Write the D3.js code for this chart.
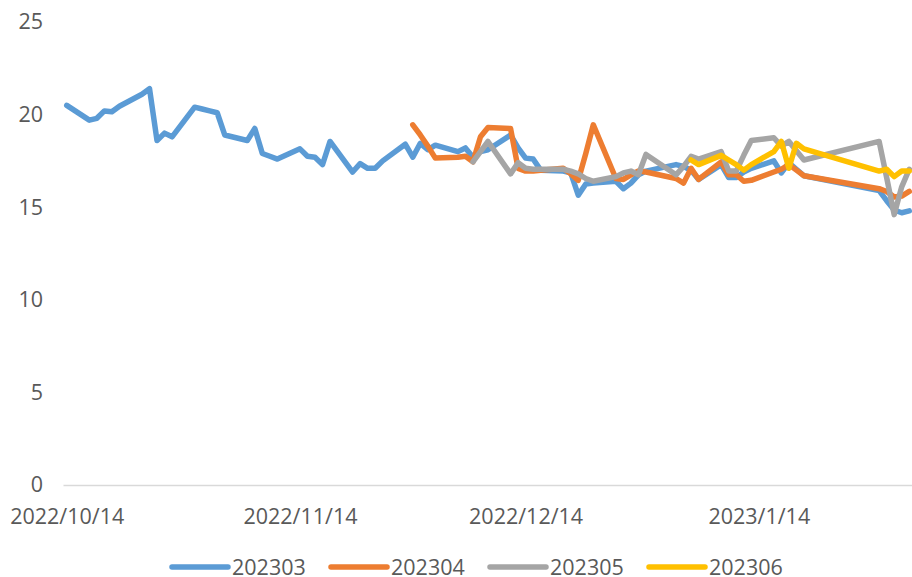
<!DOCTYPE html>
<html>
<head>
<meta charset="utf-8">
<script src="https://cdn.jsdelivr.net/npm/d3@7"></script>
<style>
  html, body { margin: 0; padding: 0; background: #fff; }
  #chart { width: 912px; height: 577px; }
  text { font-family: "Open Sans", sans-serif; fill: #595959; }
</style>
</head>
<body>
<div id="chart"></div>
<script>
// trading days on the x axis
const dates = [
  '2022/10/14','2022/10/17','2022/10/18','2022/10/19','2022/10/20','2022/10/21','2022/10/24','2022/10/25','2022/10/26','2022/10/27','2022/10/28','2022/10/31',
  '2022/11/1','2022/11/2','2022/11/3','2022/11/4','2022/11/7','2022/11/8','2022/11/9','2022/11/10','2022/11/11','2022/11/14','2022/11/15','2022/11/16','2022/11/17','2022/11/18','2022/11/21','2022/11/22','2022/11/23','2022/11/24','2022/11/25','2022/11/28','2022/11/29','2022/11/30',
  '2022/12/1','2022/12/2','2022/12/5','2022/12/6','2022/12/7','2022/12/8','2022/12/9','2022/12/12','2022/12/13','2022/12/14','2022/12/15','2022/12/16','2022/12/19','2022/12/20','2022/12/21','2022/12/22','2022/12/23','2022/12/26','2022/12/27','2022/12/28','2022/12/29','2022/12/30',
  '2023/1/3','2023/1/4','2023/1/5','2023/1/6','2023/1/9','2023/1/10','2023/1/11','2023/1/12','2023/1/13','2023/1/16','2023/1/17','2023/1/18','2023/1/19','2023/1/20','2023/1/30','2023/1/31',
  '2023/2/1','2023/2/2','2023/2/3'
];

const s202303 = [
  20.5, 19.7, 19.8, 20.2, 20.15, 20.45, 21.1, 21.4, 18.6, 19.0, 18.8, 20.4,
  20.3, 20.2, 20.1, 18.9, 18.6, 19.25, 17.9, 17.75, 17.6, 18.15, 17.75, 17.7, 17.3, 18.55, 16.9, 17.35, 17.1, 17.1, 17.5, 18.4, 17.7, 18.45,
  18.1, 18.35, 18.0, 18.2, 17.7, 18.0, 18.1, 18.9, 18.2, 17.65, 17.6, 17.0, 16.95, 16.85, 15.65, 16.25, 16.3, 16.4, 16.0, 16.3, 16.75, 16.95,
  17.3, 17.2, 17.0, 16.5, 17.3, 16.6, 16.6, 16.9, 17.1, 17.5, 16.85, 17.4, 17.05, 16.7, 15.9, 15.35,
  14.85, 14.7, 14.8
];

const s202304 = [
  null, null, null, null, null, null, null, null, null, null, null, null,
  null, null, null, null, null, null, null, null, null, null, null, null, null, null, null, null, null, null, null, null, 19.45, 18.9,
  18.3, 17.65, 17.7, 17.75, 17.45, 18.8, 19.3, 19.25, 17.1, 16.95, 16.95, 17.0, 17.1, 16.8, 16.45, 17.9, 19.45, 16.55, 16.5, 16.75, 16.95, 16.9,
  16.55, 16.3, 17.1, 16.5, 17.45, 16.75, 16.75, 16.4, 16.45, 16.9, 17.05, 17.3, 17.0, 16.7, 16.0, 15.85,
  15.55, 15.6, 15.85
];

const s202305 = [
  null, null, null, null, null, null, null, null, null, null, null, null,
  null, null, null, null, null, null, null, null, null, null, null, null, null, null, null, null, null, null, null, null, null, null,
  null, null, null, null, 17.45, 18.0, 18.55, 16.8, 17.4, 17.1, 17.05, 17.05, 17.05, 16.95, 16.8, 16.55, 16.4, 16.65, 16.85, 16.95, 16.75, 17.85,
  16.75, 17.2, 17.75, 17.6, 18.0, 16.95, 16.95, 17.8, 18.6, 18.75, 18.3, 18.55, 18.05, 17.55, 18.55, 16.6,
  14.6, 16.1, 17.05
];

const s202306 = [
  null, null, null, null, null, null, null, null, null, null, null, null,
  null, null, null, null, null, null, null, null, null, null, null, null, null, null, null, null, null, null, null, null, null, null,
  null, null, null, null, null, null, null, null, null, null, null, null, null, null, null, null, null, null, null, null, null, null,
  null, null, 17.55, 17.3, 17.8, 17.55, 17.3, 17.0, 17.3, 18.0, 18.55, 17.1, 18.45, 18.15, 16.95, 17.05,
  16.65, 16.95, 16.95
];

const seriesNames = ['202303', '202304', '202305', '202306'];
const xTickLabels = ['2022/10/14', '2022/11/14', '2022/12/14', '2023/1/14'];
const yTicks = [0, 5, 10, 15, 20, 25];

const chart = {};

chart.create = function(){
  this.width_svg = 912;
  this.height_svg = 577;
  this.fontSize = 21.5;
  this.colorRule = {
    '202303': '#5B9BD5',
    '202304': '#ED7D31',
    '202305': '#A5A5A5',
    '202306': '#FFC000',
  };
  this.svg = d3.select('#chart')
               .append('svg')
               .attr('width', this.width_svg)
               .attr('height', this.height_svg);
  this.update();
}

chart.update = function(){
  let svg = this.svg,
      colorRule = this.colorRule,
      fontSize = this.fontSize;
  let parse = d3.timeParse('%Y/%m/%d');
  let days = dates.map(parse);
  let halfDay = 12 * 3600 * 1000;
  let data = [s202303, s202304, s202305, s202306].map((v, i) => ({name: seriesNames[i], value: v}));

  // excel date axis: each point sits in the middle of its day slot
  let xScale = d3.scaleTime()
                 .domain([+days[0] - halfDay, +days[days.length - 1] + halfDay])
                 .range([63, 913]);
  let yScale = d3.scaleLinear()
                 .domain([0, 25])
                 .range([485, 22]);

  let xAxis = g => g.attr('transform', `translate(0, ${yScale(0)})`)
                    .call(d3.axisBottom(xScale)
                            .tickValues(xTickLabels.map(parse))
                            .tickFormat((d, i) => xTickLabels[i])
                            .tickSize(0)
                            .tickPadding(24))
                    .call(g => g.select('.domain').attr('stroke', '#D9D9D9').attr('stroke-width', 1.3))
                    .call(g => g.selectAll('.tick text')
                                .attr('font-size', fontSize)
                                .attr('font-family', '"Open Sans", sans-serif')
                                .attr('fill', '#595959'));
  let yAxis = g => g.attr('transform', 'translate(43, 0)')
                    .call(d3.axisLeft(yScale).tickValues(yTicks).tickSize(0).tickPadding(0))
                    .call(g => g.select('.domain').remove())
                    .call(g => g.selectAll('.tick text')
                                .attr('font-size', fontSize)
                                .attr('font-family', '"Open Sans", sans-serif')
                                .attr('fill', '#595959'));

  svg.append('g').call(xAxis);
  svg.append('g').call(yAxis);

  let line = d3.line()
               .defined(d => d != null)
               .x((d, i) => xScale(days[i]))
               .y(d => yScale(d));

  svg.append('g')
     .attr('fill', 'none')
     .attr('stroke-width', 5.5)
     .attr('stroke-linejoin', 'round')
     .attr('stroke-linecap', 'round')
   .selectAll('path')
   .data(data)
   .enter().append('path')
           .attr('stroke', d => colorRule[d.name])
           .attr('d', d => line(d.value));

  svg.call(drawLegend);

  function drawLegend(svg){
    let x0 = 172, y0 = 567, step = 159, width_legend = 56;
    let g_legend = svg.append('g')
                      .attr('transform', `translate(${x0}, ${y0})`);
    let item = g_legend.selectAll('g')
                       .data(seriesNames)
                       .enter().append('g')
                       .attr('transform', (d, i) => `translate(${step * i}, 0)`);
    item.append('line')
        .attr('x1', 0)
        .attr('x2', width_legend)
        .attr('stroke', d => colorRule[d])
        .attr('stroke-width', 5.5)
        .attr('stroke-linecap', 'round');
    item.append('text')
        .attr('x', width_legend + 4)
        .attr('dy', '.35em')
        .attr('font-size', fontSize)
        .text(d => d);
  }
}

chart.create();
</script>
</body>
</html>
